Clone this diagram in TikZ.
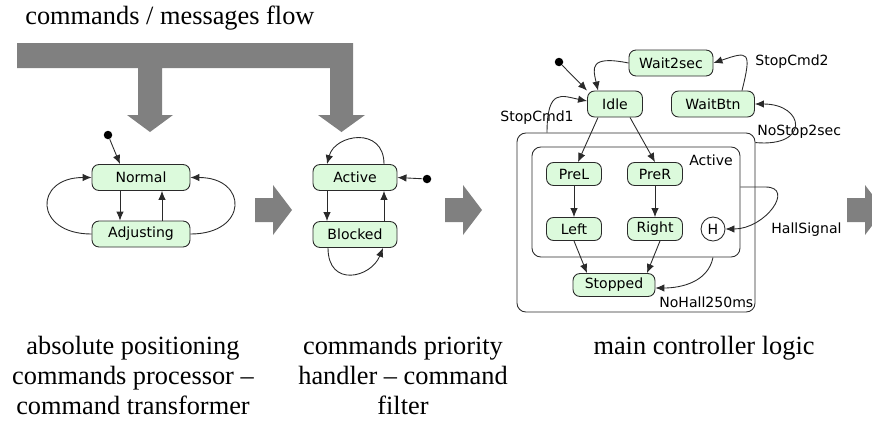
\documentclass[tikz,border=0pt]{standalone}
\usepackage{fontspec}
\setmainfont{Liberation Serif}
\newfontfamily\smfont{DejaVu Sans}
\usetikzlibrary{positioning,arrows.meta}
\definecolor{smgreen}{HTML}{DCFADC}
\definecolor{flowgray}{HTML}{808080}
\definecolor{smline}{HTML}{2A2A2A}
\tikzset{
  state/.style     ={draw=smline, fill=smgreen, rounded corners=4pt, minimum height=0.52cm,
                     inner sep=1pt, line width=0.5pt, font=\smfont\fontsize{8}{9}\selectfont},
  substate/.style  ={state, minimum height=0.46cm},
  hist/.style      ={circle, draw=smline, fill=white, minimum size=0.48cm, inner sep=0pt,
                     line width=0.5pt, font=\smfont\fontsize{8}{9}\selectfont},
  initdot/.style   ={circle, fill=black, minimum size=1.7mm, inner sep=0pt},
  regionbox/.style ={draw=smline, rounded corners=5pt, line width=0.5pt},
  lbl/.style       ={inner sep=0pt, font=\smfont\fontsize{8}{9}\selectfont},
  captxt/.style    ={inner sep=0pt, align=center, font=\fontsize{15}{17}\selectfont},
  tr/.style        ={-{Latex[length=1.8mm,width=1.5mm]}, line width=0.5pt, smline},
}
\newcommand{\sidearrow}[1]{%
  \fill[flowgray] (#1,198) -- ++(18,0) -- ++(0,-13) -- ++(19,25) -- ++(-19,25)
    -- ++(0,-13) -- ++(-18,0) -- cycle;}

\begin{document}
\begin{tikzpicture}[x=0.02cm, y=-0.02cm]
  \useasboundingbox (0,0) rectangle (872,423);
  \clip (0,0) rectangle (872,423);

  % message flow
  \node[captxt, anchor=base west] (flowlbl) at (25,24) {commands / messages flow};
  \fill[flowgray] (17,43) -- (353,43) -- (353,115) -- (365,115) -- (341.5,132) -- (318,115)
    -- (330,115) -- (330,68) -- (162,68) -- (162,115) -- (173,115) -- (150,132)
    -- (127,115) -- (138,115) -- (138,68) -- (17,68) -- cycle;
  \sidearrow{255} \sidearrow{445} \sidearrow{847}

  % positioning processor
  \node[state, minimum width=1.96cm] (norm) at (141,177.5) {Normal};
  \node[state, minimum width=1.96cm] (adj) at (141,234) {Adjusting};
  \node[initdot] (init1) at (108,135) {};
  \draw[tr] (init1) -- ([xshift=-0.42cm]norm.north);
  \draw[tr] ([xshift=-0.42cm]norm.south) -- ([xshift=-0.42cm]adj.north);
  \draw[tr] ([xshift=0.42cm]adj.north) -- ([xshift=0.42cm]norm.south);
  \draw[tr] (adj.west) .. controls +(-58,0) and +(-58,0) .. (norm.west);
  \draw[tr] (adj.east) .. controls +(58,0) and +(58,0) .. (norm.east);

  % priority handler
  \node[state, minimum width=1.68cm] (act) at (355,177.5) {Active};
  \node[state, minimum width=1.68cm] (blk) at (355,234.5) {Blocked};
  \node[initdot] (init2) at (427,179) {};
  \draw[tr] (init2) -- (act.east);
  \draw[tr] ([xshift=-0.56cm]act.south) -- ([xshift=-0.56cm]blk.north);
  \draw[tr] ([xshift=0.58cm]blk.north) -- ([xshift=0.58cm]act.south);
  \draw[tr] ([xshift=0.58cm]act.north) .. controls +(0,-38) and +(8,-30) .. ([xshift=-0.56cm]act.north);
  \draw[tr] ([xshift=-0.54cm]blk.south) .. controls +(0,40) and +(-12,30) .. ([xshift=0.56cm]blk.south);

  % main controller
  \node[regionbox, minimum width=4.76cm, minimum height=3.58cm] (mainsm) at (636,222.5) {};
  \node[regionbox, minimum width=4.16cm, minimum height=2.2cm] (actbox) at (636,202) {};
  \node[lbl] (lblact) at (711,160) {Active};
  \node[state, minimum width=1.1cm] (idle) at (615,104) {Idle};
  \node[state, minimum width=1.68cm] (wait2) at (671,63) {Wait2sec};
  \node[state, minimum width=1.66cm] (waitbtn) at (713,104) {WaitBtn};
  \node[substate, minimum width=1.1cm] (prel) at (574,174) {PreL};
  \node[substate, minimum width=1.1cm] (prer) at (655,174) {PreR};
  \node[substate, minimum width=1.1cm] (left) at (574,229) {Left};
  \node[substate, minimum width=1.1cm] (right) at (655,229) {Right};
  \node[hist] (hist) at (713,229) {H};
  \node[substate, minimum width=1.64cm] (stopped) at (614,285) {Stopped};
  \node[initdot] (init3) at (559,62) {};

  \node[lbl, anchor=west] (lstop2) at (755,62) {StopCmd2};
  \node[lbl] (lstop1) at (537,118) {StopCmd1};
  \node[lbl, anchor=west] (lnostop) at (757,132) {NoStop2sec};
  \node[lbl, anchor=west] (lhall) at (771,230) {HallSignal};
  \node[lbl, anchor=west] (lnohall) at (659,302) {NoHall250ms};

  \draw[tr] (init3) -- (idle.north west);
  \draw[tr] (wait2.west) .. controls +(-40,-8) and +(-5,-22) .. ([xshift=-0.34cm]idle.north);
  \draw[tr] ([xshift=0.58cm]waitbtn.north) .. controls +(10,-40) and +(35,-12) .. (wait2.east);
  \draw[tr] ([xshift=-1.78cm]mainsm.north) .. controls +(0,-45) and +(-25,-5) .. ([yshift=0.06cm]idle.west);
  \draw[tr] ([yshift=-0.2cm]mainsm.north east) .. controls +(55,5) and +(50,0) .. (waitbtn.east);
  \draw[tr] ([xshift=-0.34cm]idle.south) -- ([xshift=0.08cm]prel.north);
  \draw[tr] ([xshift=0.3cm]idle.south) -- (prer.north);
  \draw[tr] (prel) -- (left);
  \draw[tr] (prer) -- (right);
  \draw[tr] (left.south) -- ([xshift=-0.54cm]stopped.north);
  \draw[tr] ([xshift=0.1cm]right.south) -- ([xshift=0.66cm]stopped.north);
  \draw[tr] ([xshift=1.54cm]actbox.south) .. controls +(-5,25) and +(25,0) .. ([yshift=-0.06cm]stopped.east);
  \draw[tr] ([yshift=0.3cm]actbox.east) -- ++(25,0) .. controls +(30,0) and +(40,0) .. (hist.east);

  % captions
  \node[captxt, anchor=north] (cap1) at (133,336) {absolute positioning\\commands processor –\\command transformer};
  \node[captxt, anchor=north] (cap2) at (403,336) {commands priority\\handler – command\\filter};
  \node[captxt, anchor=north] (cap3) at (704,336) {main controller logic};
\end{tikzpicture}
\end{document}
